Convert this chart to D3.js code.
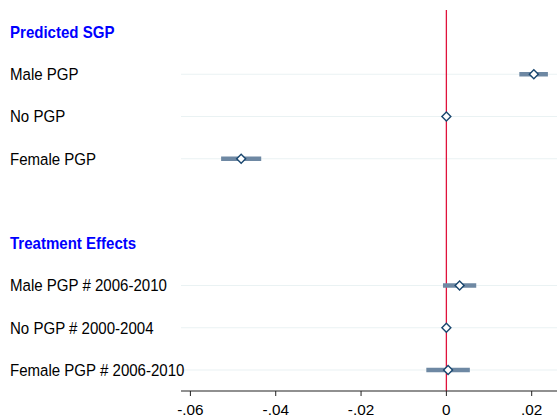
<!DOCTYPE html>
<html><head><meta charset="utf-8">
<script src="https://cdn.jsdelivr.net/npm/d3@7"></script>
<style>body{margin:0;background:#fff;} svg{display:block;font-family:"Liberation Sans",Arial,sans-serif;}</style>
</head><body><svg id="c" width="558" height="417"></svg>
<script>
// rows: type "h" = heading, "r" = coefficient row, "b" = blank
const rowLabels = ["Predicted SGP","Male PGP","No PGP","Female PGP","","Treatment Effects","Male PGP # 2006-2010","No PGP # 2000-2004","Female PGP # 2006-2010"];
const rowTypes  = ["h","r","r","r","b","h","r","r","r"];
const estimates = [null, 0.0205, 0, -0.0481, null, null, 0.0031, 0, 0.0004];
const ciLow     = [null, 0.0171, null, -0.0528, null, null, -0.0008, null, -0.0047];
const ciHigh    = [null, 0.0238, null, -0.0434, null, null, 0.0070, null, 0.0055];
const xTicks = [-0.06,-0.04,-0.02,0,0.02];
const xTickLabels = ["-.06","-.04","-.02","0",".02"];

const svg = d3.select("#c");
const x = d3.scaleLinear().domain([-0.06, 0.02]).range([190.4, 531.7]);
const y = d3.scalePoint().domain(d3.range(rowLabels.length)).range([32, 370]);
const plotLeft = 181, plotRight = 557, axisY = 391;

// gridlines
svg.append("g").selectAll("line").data(d3.range(rowLabels.length).filter(i=>rowTypes[i]==="r"))
  .join("line").attr("x1",plotLeft).attr("x2",plotRight)
  .attr("y1",i=>y(i)).attr("y2",i=>y(i)).attr("stroke","#eaf2f3").attr("stroke-width",1.2);

// labels
svg.append("g").attr("transform","translate(10,0) scale(0.965,1)")
  .selectAll("text").data(d3.range(rowLabels.length).filter(i=>rowTypes[i]!=="b"))
  .join("text").attr("x",0).attr("y",i=>y(i)).attr("dy","0.37em")
  .attr("font-size",15.6)
  .attr("font-weight",i=>rowTypes[i]==="h"?"bold":"normal")
  .attr("fill",i=>rowTypes[i]==="h"?"#0000ff":"#000")
  .text(i=>rowLabels[i]);

// reference line at 0
svg.append("line").attr("x1",x(0)).attr("x2",x(0)).attr("y1",10).attr("y2",axisY)
  .attr("stroke","#e0123c").attr("stroke-width",1.3);

// CIs
const ciRows = d3.range(rowLabels.length).filter(i=>ciLow[i]!==null);
svg.append("g").selectAll("line").data(ciRows).join("line")
  .attr("x1",i=>x(ciLow[i])).attr("x2",i=>x(ciHigh[i]))
  .attr("y1",i=>y(i)).attr("y2",i=>y(i))
  .attr("stroke","#6e88a3").attr("stroke-width",4.5);

// markers
const ptRows = d3.range(rowLabels.length).filter(i=>estimates[i]!==null);
const diamond = d3.symbol().type(d3.symbolSquare).size(40);
svg.append("g").selectAll("path").data(ptRows).join("path")
  .attr("d",diamond)
  .attr("transform",i=>`translate(${x(estimates[i])},${y(i)}) rotate(45)`)
  .attr("fill","#fff").attr("stroke","#1a476f").attr("stroke-width",1.4);

// x axis
const ax = svg.append("g").attr("transform",`translate(0,${axisY})`);
ax.append("line").attr("x1",plotLeft).attr("x2",plotRight).attr("stroke","#222").attr("stroke-width",1.1);
ax.selectAll("line.t").data(xTicks).join("line").attr("class","t")
  .attr("x1",d=>x(d)).attr("x2",d=>x(d)).attr("y1",0).attr("y2",5)
  .attr("stroke","#222").attr("stroke-width",1);
ax.selectAll("text").data(xTicks).join("text")
  .attr("x",d=>x(d)).attr("y",24).attr("text-anchor","middle")
  .attr("font-size",15.3).attr("fill","#000")
  .text((d,i)=>xTickLabels[i]);
</script></body></html>
